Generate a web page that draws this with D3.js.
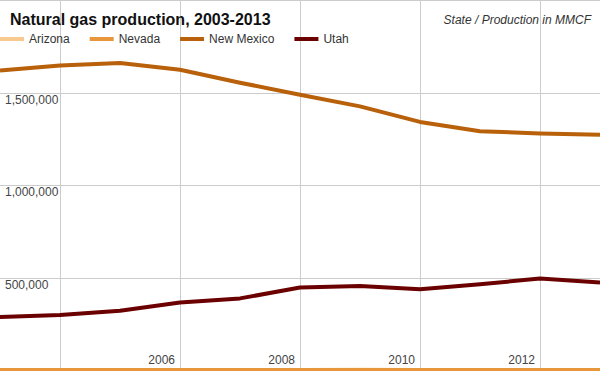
<!DOCTYPE html>
<html>
<head>
<meta charset="utf-8">
<script src="https://cdn.jsdelivr.net/npm/d3@7"></script>
<style>
    body { margin: 0; background: #fff; }
    svg { display: block; font-family: "Liberation Sans", Arial, sans-serif; }
</style>
</head>
<body>
<div id="vis"></div>
<script>
// data (MMCF)
const years = [2003, 2004, 2005, 2006, 2007, 2008, 2009, 2010, 2011, 2012, 2013];
const arizona = [407, 275, 673, 542, 651, 523, 712, 183, 168, 117, 129];
const nevada = [5, 5, 4, 4, 4, 3, 4, 4, 4, 4, 3];
const newMexico = [1619000, 1646000, 1659000, 1623000, 1553000, 1488000, 1425000, 1341000, 1290000, 1279000, 1272000];
const utah = [287000, 297000, 320000, 365000, 387000, 446000, 454000, 437000, 464000, 494000, 473000];

const seriesNames = ["Arizona", "Nevada", "New Mexico", "Utah"];
const seriesColors = ["#f9c88f", "#e8963c", "#b8600a", "#6b0000"];
const yTicks = [500000, 1000000, 1500000, 2000000];
const xTicks = [2004, 2006, 2008, 2010, 2012];

const width = 600;
const height = 371;

const svg = d3.select("#vis").append("svg")
    .attr("width", width)
    .attr("height", height);

// Scales setup
const xscale = d3.scaleLinear().domain([2003, 2013]).range([0, width]);
const yscale = d3.scaleLinear().domain([0, 2000000]).range([height - 1, 0]);

// grid
const grid = svg.append("g").attr("class", "grid");
grid.selectAll("line.v").data(xTicks).join("line")
    .attr("class", "v")
    .attr("x1", d => Math.round(xscale(d)) + 0.5)
    .attr("x2", d => Math.round(xscale(d)) + 0.5)
    .attr("y1", 0).attr("y2", height)
    .attr("stroke", "#ccc");
grid.selectAll("line.h").data(yTicks).join("line")
    .attr("class", "h")
    .attr("x1", 0).attr("x2", width)
    .attr("y1", d => Math.round(yscale(d)) + 0.5)
    .attr("y2", d => Math.round(yscale(d)) + 0.5)
    .attr("stroke", "#ccc");

// axis labels (the top one sits under the title, so it is left out)
const fmt = d3.format(",");
svg.append("g").selectAll("text").data(yTicks.filter(d => d < 2000000)).join("text")
    .attr("x", 5)
    .attr("y", d => yscale(d) + 11)
    .attr("font-size", 12)
    .attr("fill", "#444")
    .text(d => fmt(d));

svg.append("g").selectAll("text").data(xTicks.filter(d => d > 2004)).join("text")
    .attr("x", d => xscale(d) - 5)
    .attr("y", 364)
    .attr("text-anchor", "end")
    .attr("font-size", 12)
    .attr("fill", "#444")
    .text(d => d);

// lines
const seriesValues = [arizona, nevada, newMexico, utah];
const line = d3.line()
    .x((d, i) => xscale(years[i]))
    .y(d => yscale(d));

svg.append("g").selectAll("path").data(seriesValues).join("path")
    .attr("d", d => line(d))
    .attr("fill", "none")
    .attr("stroke", (d, i) => seriesColors[i])
    .attr("stroke-width", 4)
    .attr("stroke-linejoin", "round");

// title
svg.append("text")
    .attr("x", 10).attr("y", 25)
    .attr("font-size", 16)
    .attr("font-weight", "bold")
    .attr("fill", "#111")
    .text("Natural gas production, 2003-2013");

svg.append("text")
    .attr("x", 591).attr("y", 24)
    .attr("text-anchor", "end")
    .attr("font-size", 12)
    .attr("font-style", "italic")
    .attr("fill", "#333")
    .text("State / Production in MMCF");

// legend
const legend = svg.append("g").attr("class", "legend");
let lx = 0;
seriesNames.forEach((name, i) => {
    legend.append("line")
        .attr("x1", lx).attr("x2", lx + 24)
        .attr("y1", 39).attr("y2", 39)
        .attr("stroke", seriesColors[i])
        .attr("stroke-width", 4);
    const t = legend.append("text")
        .attr("x", lx + 29).attr("y", 43)
        .attr("font-size", 12)
        .attr("fill", "#333")
        .text(name);
    lx += 29 + t.node().getComputedTextLength() + 20;
});
</script>
</body>
</html>
